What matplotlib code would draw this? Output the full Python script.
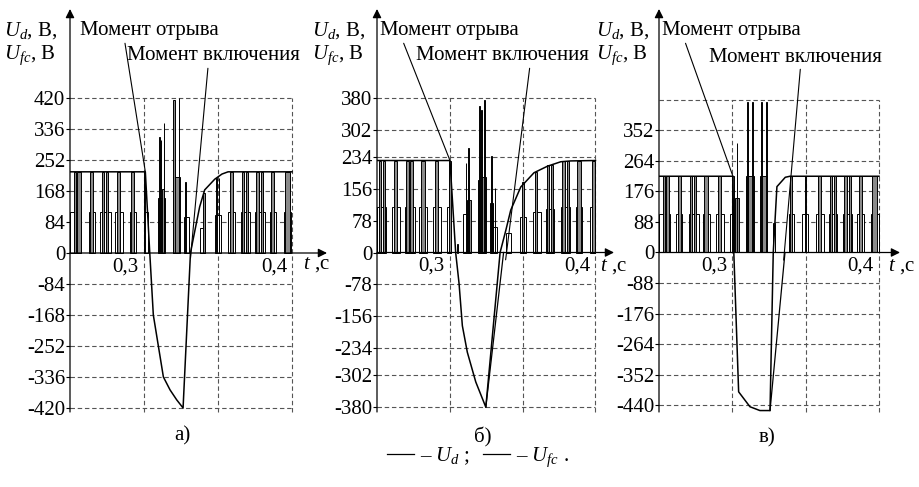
import matplotlib
matplotlib.use('Agg')
import matplotlib.pyplot as plt
from matplotlib.lines import Line2D
from matplotlib import transforms

plt.rcParams['font.family'] = ['Liberation Serif', 'DejaVu Serif']
plt.rcParams['mathtext.fontset'] = 'custom'
plt.rcParams['mathtext.rm'] = 'Liberation Serif'
plt.rcParams['mathtext.it'] = 'Liberation Serif:italic'
plt.rcParams['axes.unicode_minus'] = False

# ---------------- DATA ----------------
x_grid = [0.3, 0.35, 0.4]
x_labels = ['0,3', '0,4']
x_label_pos = [0.3, 0.4]

# panel а
a_yticks = [-420, -336, -252, -168, -84, 0, 84, 168, 252, 336, 420]
a_grid = a_yticks
a_t0 = [.2500, .2527, .2549, .2626, .2635, .2705, .2716, .2743, .2802, .2818, .2903, .2910, .3000, .3000,
        .3095, .3104, .3113, .3120, .3132, .3196, .3198, .3234, .3270, .3279, .3376, .3399, .3478, .3489, .3505,
        .3568, .3579, .3653, .3662, .3691, .3748, .3759, .3789, .3849, .3856, .3946, .3951]
a_t1 = [.2576, .2541, .2572, .2667, .2655, .2775, .2730, .2757, .2858, .2840, .2948, .2932, .3027, .3009,
        .3140, .3108, .3117, .3138, .3135, .3241, .3211, .3238, .3302, .3283, .3410, .3410, .3518, .3494, .3510,
        .3613, .3601, .3714, .3676, .3705, .3816, .3775, .3804, .3894, .3878, .3991, .3984]
a_v = [110, 220, 220, 110, 220, 110, 220, 220, 110, 220, 110, 220, 110, 220,
       150, 315, 305, 173, 352, 207, 415, 420, 98, 193, 68, 162, 103, 203, 203,
       110, 220, 110, 220, 220, 110, 220, 220, 110, 220, 110, 220]
a_fc_t = [.25, .3009, .3039, .3063, .3131, .3176, .3221, .3264, .3314, .3331, .3376, .3410, .3478, .3527, .3568, .40]
a_fc_v = [220, 220, 0, -168, -336, -371, -398, -420, 0, 35, 125, 171, 200, 214, 220, 220]
a_ret_t = []
a_ret_v = []
a_on = (.3314, -14)

# panel б
b_yticks = [-380, -302, -234, -156, -78, 0, 78, 156, 234, 302, 380]
b_grid = b_yticks
b_t0 = [.2500, .2514, .2543, .2605, .2617, .2690, .2699, .2727, .2788, .2804, .2887, .2896, .2983, .2997,
        .3047, .3093, .3109, .3116, .3125, .3194, .3223, .3203, .3216, .3235, .3276, .3285, .3299, .3308,
        .3384, .3482, .3494, .3573, .3583, .3659, .3670, .3693, .3764, .3773, .3803, .3864, .3875, .3963, .3974]
b_t1 = [.2560, .2530, .2555, .2658, .2639, .2759, .2718, .2745, .2845, .2828, .2937, .2919, .3010, .3008,
        .3053, .3116, .3113, .3144, .3129, .3223, .3247, .3207, .3220, .3239, .3299, .3289, .3326, .3312,
        .3422, .3521, .3510, .3624, .3601, .3716, .3684, .3709, .3826, .3791, .3819, .3910, .3898, .4000, .3997]
b_v = [113, 226, 226, 113, 226, 113, 226, 226, 113, 226, 113, 226, 113, 226,
       20, 95, 220, 128, 257, 178, 186, 359, 350, 375, 121, 237, 62, 158,
       47, 87, 173, 100, 198, 108, 215, 215, 113, 226, 226, 113, 226, 113, 226]
b_fc_t = [.25, .3001, .3040, .3063, .3086, .3120, .3178, .3247, .3345, .3384, .3418, .3487, .3578, .3670, .3762, .3830, .40]
b_fc_v = [226, 226, 0, -75, -180, -245, -318, -380, 0, 54, 104, 161, 196, 212, 223, 225, 226]
b_ret_t = [.3247, .3369]
b_ret_v = [-380, 0]
b_on = (.3383, -18)

# panel в
c_yticks = [-440, -352, -264, -176, -88, 0, 88, 176, 264, 352]
c_grid = [-440, -352, -264, -176, -88, 0, 88, 176, 264, 352, 440]
c_t0 = [.2500, .2527, .2550, .2618, .2627, .2702, .2709, .2737, .2800, .2809, .2891, .2900, .2986, .2998,
        .3016, .3030, .3095, .3101, .3132, .3191, .3195, .3229, .3277,
        .3384, .3391, .3475, .3493, .3572, .3582, .3657, .3664, .3691, .3754, .3763, .3793, .3850, .3861, .3945, .3952]
c_t1 = [.2573, .2541, .2566, .2657, .2650, .2771, .2727, .2754, .2850, .2832, .2941, .2923, .3013, .3009,
        .3043, .3034, .3146, .3108, .3138, .3236, .3205, .3236, .3293,
        .3418, .3407, .3514, .3502, .3622, .3604, .3713, .3679, .3707, .3816, .3782, .3809, .3895, .3884, .3998, .3986]
c_v = [110, 220, 220, 110, 220, 110, 220, 220, 110, 220, 110, 220, 110, 220,
       156, 315, 220, 435, 435, 220, 435, 435, 84,
       110, 220, 110, 220, 110, 220, 110, 220, 220, 110, 220, 220, 110, 220, 110, 220]
c_fc_t = [.25, .3004, .3010, .3043, .3120, .3188, .3257, .3279, .3304, .3361, .3393, .40]
c_fc_v = [220, 220, 0, -402, -445, -456, -456, 0, 190, 217, 220, 220]
c_ret_t = [.3257, .3359]
c_ret_v = [-456, 0]
c_on = (.3350, -22)

captions = ['а)', 'б)', 'в)']
txt_off = 'Момент отрыва'
txt_on = 'Момент включения'

# ---------------- LAYOUT ----------------
W, H = 920, 487
FS = 15
fig = plt.figure(figsize=(W / 100, H / 100), dpi=100)

panels = [
    dict(ax=70, x04=292, right=335, y0=253, s=0.369, tip=327, ybot=412,
         tc=(303, 265), lab=4, off=(80, 31, 0.32), on=(127, 56, 0.47), cap=(182, 436)),
    dict(ax=377, x04=595.5, right=620, y0=252.5, s=0.407, tip=614, ybot=412,
         tc=(600, 266), lab=312, off=(380, 31, 0.16), on=(416, 56, 0.66), cap=(483, 437)),
    dict(ax=659, x04=879, right=905, y0=252.5, s=0.3466, tip=900, ybot=412,
         tc=(888, 266), lab=596, off=(662, 31, 0.16), on=(709, 57, 0.53), cap=(767, 438)),
]
datasets = [
    (a_yticks, a_grid, a_t0, a_t1, a_v, a_fc_t, a_fc_v, a_ret_t, a_ret_v, a_on),
    (b_yticks, b_grid, b_t0, b_t1, b_v, b_fc_t, b_fc_v, b_ret_t, b_ret_v, b_on),
    (c_yticks, c_grid, c_t0, c_t1, c_v, c_fc_t, c_fc_v, c_ret_t, c_ret_v, c_on),
]

T, B = 4, 422
for cfg, ds, cap in zip(panels, datasets, captions):
    yticks, grid, t0, t1, vv, fct, fcv, rt, rv, on_pt = ds
    pps = (cfg['x04'] - cfg['ax']) / 0.15
    L, R = cfg['ax'], cfg['right']
    ax = fig.add_axes([L / W, 1 - B / H, (R - L) / W, (B - T) / H])
    ax.set_xlim(0.25, 0.25 + (R - L) / pps)
    ax.set_ylim((cfg['y0'] - B) / cfg['s'], (cfg['y0'] - T) / cfg['s'])
    for sp in ax.spines.values():
        sp.set_visible(False)
    ax.patch.set_alpha(0)
    ax.set_xticks([])
    ax.set_yticks(yticks, labels=[str(v) for v in yticks])
    ax.tick_params(axis='y', direction='out', length=3, width=0.8, pad=0.5, labelsize=FS)

    vbot = (cfg['y0'] - cfg['ybot']) / cfg['s']
    vtop_arrow = (cfg['y0'] - 9) / cfg['s']
    ttip = 0.25 + (cfg['tip'] - cfg['ax']) / pps

    # grid
    ax.hlines([g for g in grid if g != 0], 0.25, 0.4, colors='#555555',
              linestyles=(0, (4, 2.5)), lw=0.8, zorder=1)
    ax.vlines(x_grid, vbot, max(grid), colors='#555555',
              linestyles=(0, (4, 2.5)), lw=0.8, zorder=1)

    # U_d pulses
    order = sorted(range(len(vv)), key=lambda i: vv[i])
    for i in order:
        fcol = 'white' if vv[i] <= 120 else '#8a8a8a'
        ax.bar(t0[i], vv[i], width=t1[i] - t0[i], align='edge', facecolor=fcol,
               edgecolor='black', linewidth=0.7, zorder=2)
    if rt:
        ax.plot(rt, rv, color='black', lw=0.9, zorder=3)
    # U_fc
    ax.plot(fct, fcv, color='black', lw=1.1, zorder=4)

    # axes with arrows
    ax.annotate('', xy=(0.25, vtop_arrow), xytext=(0.25, vbot),
                arrowprops=dict(arrowstyle='-|>', color='black', lw=0.9,
                                mutation_scale=13, shrinkA=0, shrinkB=0), zorder=5)
    ax.annotate('', xy=(ttip, 0), xytext=(0.25, 0),
                arrowprops=dict(arrowstyle='-|>', color='black', lw=0.9,
                                mutation_scale=13, shrinkA=0, shrinkB=0), zorder=5)

    # x tick labels
    for xp, xl in zip(x_label_pos, x_labels):
        tr = transforms.offset_copy(ax.transData, fig=fig, x=-5, y=-14, units='dots')
        ax.text(xp, 0, xl, transform=tr, ha='right', va='center', fontsize=FS)

    # axis titles
    fig.text(cfg['lab'] / W, 1 - 31 / H, '$U_d$, В,', fontsize=FS, ha='left', va='center')
    fig.text(cfg['lab'] / W, 1 - 55 / H, '$U_{fc}$, В', fontsize=FS, ha='left', va='center')
    fig.text(cfg['tc'][0] / W, 1 - cfg['tc'][1] / H, '$t$ ,с', fontsize=FS, ha='left', va='center')

    # annotations
    ox, oy, orel = cfg['off']
    ax.annotate(txt_off, xy=(fct[1], fcv[1]), xycoords='data',
                xytext=(ox / W, 1 - oy / H), textcoords='figure fraction',
                ha='left', va='center', fontsize=FS, annotation_clip=False,
                arrowprops=dict(arrowstyle='-', color='black', lw=0.8,
                                shrinkA=0, shrinkB=0, relpos=(orel, 0.05)))
    nx, ny, nrel = cfg['on']
    ax.annotate(txt_on, xy=on_pt, xycoords='data',
                xytext=(nx / W, 1 - ny / H), textcoords='figure fraction',
                ha='left', va='center', fontsize=FS, annotation_clip=False,
                arrowprops=dict(arrowstyle='-', color='black', lw=0.8,
                                shrinkA=0, shrinkB=0, relpos=(nrel, 0.05)))

    fig.text(cfg['cap'][0] / W, 1 - cfg['cap'][1] / H, cap, fontsize=FS, ha='center', va='center')

handles = [Line2D([], [], color='black', lw=0.9), Line2D([], [], color='black', lw=0.9)]
fig.legend(handles, ['– $U_d$ ;', '– $U_{fc}$ .'], loc='center',
           bbox_to_anchor=(478 / W, 1 - 457 / H), ncol=2, frameon=False,
           fontsize=FS, handlelength=1.3, handletextpad=0.3, columnspacing=0.6)

fig.savefig('out.png', dpi=100)
